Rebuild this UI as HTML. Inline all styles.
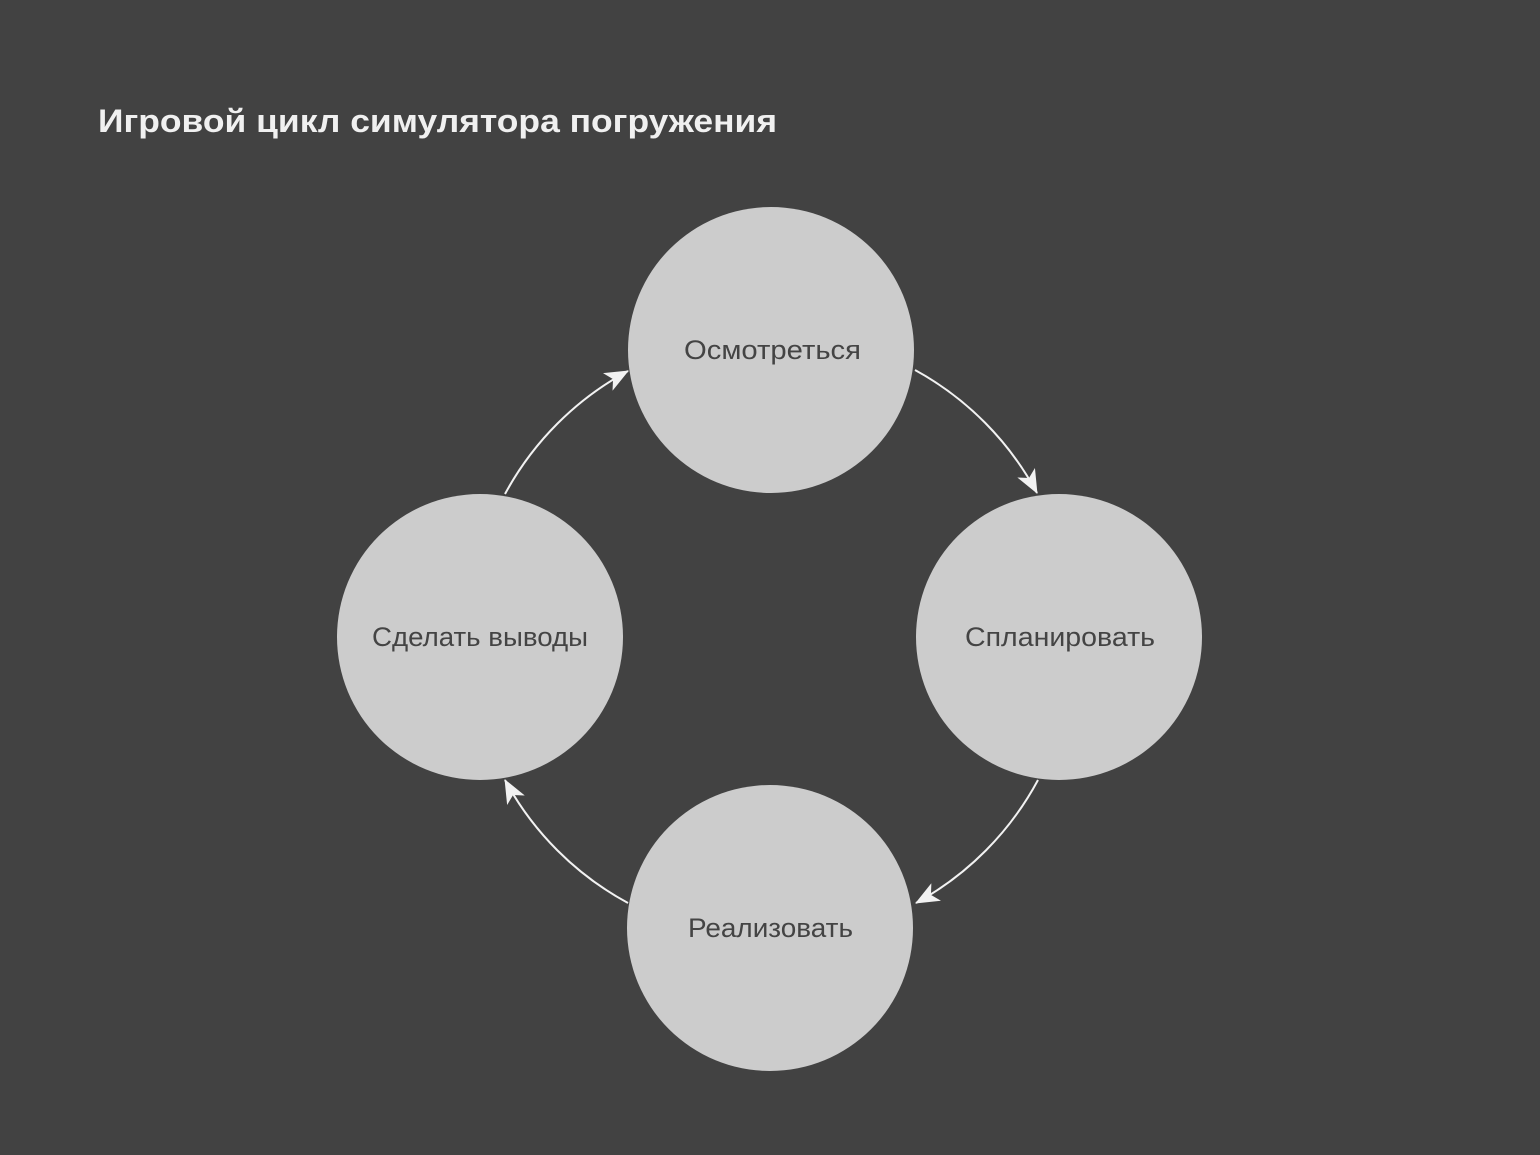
<!DOCTYPE html>
<html><head><meta charset="utf-8"><style>
html,body{margin:0;padding:0;background:#424242;}
svg{display:block}
</style></head><body>
<svg width="1540" height="1155" viewBox="0 0 1540 1155" xmlns="http://www.w3.org/2000/svg">
<defs>
<marker id="a" viewBox="0 0 24 20" refX="23" refY="10" markerWidth="24" markerHeight="20" markerUnits="userSpaceOnUse" orient="auto">
<path d="M0,0 L24,10 L0,20 L6,10 Z" fill="#f2f2f2"/>
</marker>
</defs>
<rect width="1540" height="1155" fill="#424242"/>
<text x="98" y="132" font-family="Liberation Sans, sans-serif" font-size="32" font-weight="bold" fill="#f0f0f0" textLength="679" lengthAdjust="spacingAndGlyphs">Игровой цикл симулятора погружения</text>
<g fill="none" stroke="#f2f2f2" stroke-width="2">
<path d="M915,370 A304,304 0 0 1 1037,493" marker-end="url(#a)"/>
<path d="M1038,780 A304,304 0 0 1 916,903" marker-end="url(#a)"/>
<path d="M628,903 A304,304 0 0 1 505,780" marker-end="url(#a)"/>
<path d="M505,494 A304,304 0 0 1 628,371" marker-end="url(#a)"/>
</g>
<g fill="#cccccc">
<circle cx="771" cy="350" r="143"/>
<circle cx="1059" cy="637" r="143"/>
<circle cx="770" cy="928" r="143"/>
<circle cx="480" cy="637" r="143"/>
</g>
<g font-family="Liberation Sans, sans-serif" font-size="27" fill="#444" lengthAdjust="spacingAndGlyphs">
<text x="684" y="359" textLength="177" lengthAdjust="spacingAndGlyphs">Осмотреться</text>
<text x="965" y="646" textLength="190" lengthAdjust="spacingAndGlyphs">Спланировать</text>
<text x="688" y="937" textLength="165" lengthAdjust="spacingAndGlyphs">Реализовать</text>
<text x="372" y="646" textLength="216" lengthAdjust="spacingAndGlyphs">Сделать выводы</text>
</g>
</svg>
</body></html>
